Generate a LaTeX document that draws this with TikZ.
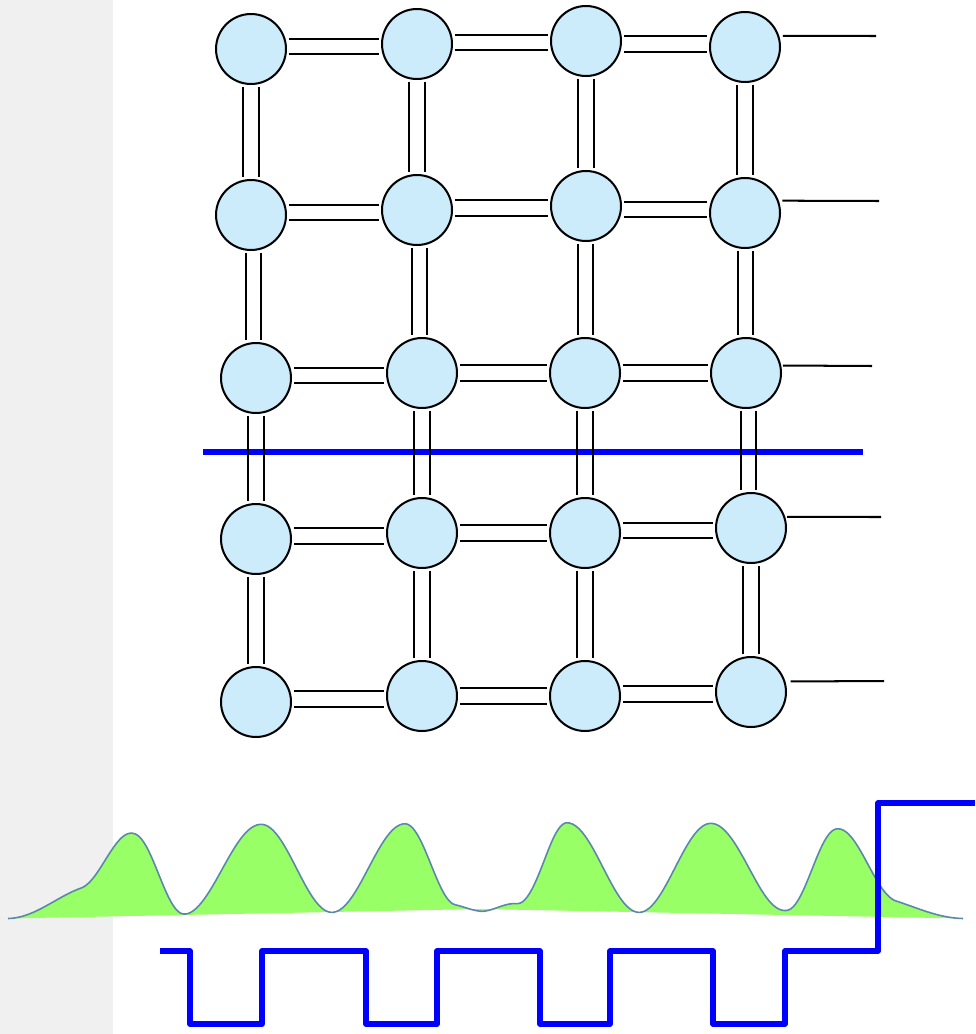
\documentclass[tikz,border=0pt]{standalone}
\usetikzlibrary{calc}
\definecolor{siteblue}{RGB}{204,236,252}
\definecolor{wavegreen}{RGB}{153,255,102}
\definecolor{waveline}{RGB}{90,135,170}
\definecolor{panelgrey}{RGB}{240,240,240}
\newcommand{\railH}[2]{%
  \path ($(#1)!0.5!(#2)$) coordinate (rm);
  \draw[rail] ($(#1.east |- rm)+(1pt,4.5pt)$) -- ($(#2.west |- rm)+(-1pt,4.5pt)$);
  \draw[rail] ($(#1.east |- rm)+(1pt,-4.5pt)$) -- ($(#2.west |- rm)+(-1pt,-4.5pt)$);}
\newcommand{\railV}[2]{%
  \path ($(#1)!0.5!(#2)$) coordinate (rm);
  \draw[rail] ($(#1.south -| rm)+(4.5pt,-1pt)$) -- ($(#2.north -| rm)+(4.5pt,1pt)$);
  \draw[rail] ($(#1.south -| rm)+(-4.5pt,-1pt)$) -- ($(#2.north -| rm)+(-4.5pt,1pt)$);}
\begin{document}
\begin{tikzpicture}[x=0.02cm,y=-0.02cm,
  declare function={
    rc(\u,\m,\p,\q)=0.5+0.5*cos(180*max(-1,min(1,(\u-\m)/(\p*(\u<\m)+\q*(\u>=\m)))));
    wb(\u)=918.5-7*sin((\u-8)/955*180);
    wv(\u)=wb(\u)-32*rc(\u,100,92,92)-60*rc(\u,136,55,47)-89*rc(\u,261,78,71)-88*rc(\u,405,73,50)-8*rc(\u,445,40,40)-8*rc(\u,515,35,35)-89*rc(\u,567,50,72)-90*rc(\u,711,72,77)-67.5*rc(\u,836,48,60)-22*rc(\u,860,103,103);
  },
  site/.style={circle, draw=black, line width=1.15pt, fill=siteblue, minimum size=1.4cm, inner sep=0pt},
  rail/.style={line width=1.15pt, black},
  stub/.style={line width=1.15pt, black},
  cut/.style={line width=3.4pt, blue},
  pulse/.style={line width=2.9pt, blue, line join=round},
  waveout/.style={line width=0.9pt, waveline, line join=round}]
\useasboundingbox (0,0) rectangle (975,1034);
\fill[panelgrey] (0,0) rectangle (113,1034);

% cut line
\coordinate (c1) at (203,452);
\coordinate (c2) at (863,452);
\draw[cut] (c1) -- (c2);

% sites
\node[site] (n11) at (251,49) {};
\node[site] (n12) at (417,44) {};
\node[site] (n13) at (586,41) {};
\node[site] (n14) at (745,47) {};
\node[site] (n21) at (251,215) {};
\node[site] (n22) at (417,210) {};
\node[site] (n23) at (586,206) {};
\node[site] (n24) at (745,213) {};
\node[site] (n31) at (256,378) {};
\node[site] (n32) at (422,373) {};
\node[site] (n33) at (585,373) {};
\node[site] (n34) at (746,373) {};
\node[site] (n41) at (256,539) {};
\node[site] (n42) at (422,533) {};
\node[site] (n43) at (585,533) {};
\node[site] (n44) at (751,528) {};
\node[site] (n51) at (256,702) {};
\node[site] (n52) at (422,696) {};
\node[site] (n53) at (585,696) {};
\node[site] (n54) at (751,692) {};

% horizontal rails
\railH{n11}{n12}\railH{n12}{n13}\railH{n13}{n14}
\railH{n21}{n22}\railH{n22}{n23}\railH{n23}{n24}
\railH{n31}{n32}\railH{n32}{n33}\railH{n33}{n34}
\railH{n41}{n42}\railH{n42}{n43}\railH{n43}{n44}
\railH{n51}{n52}\railH{n52}{n53}\railH{n53}{n54}
% vertical rails
\railV{n11}{n21}\railV{n21}{n31}\railV{n31}{n41}\railV{n41}{n51}
\railV{n12}{n22}\railV{n22}{n32}\railV{n32}{n42}\railV{n42}{n52}
\railV{n13}{n23}\railV{n23}{n33}\railV{n33}{n43}\railV{n43}{n53}
\railV{n14}{n24}\railV{n24}{n34}\railV{n34}{n44}\railV{n44}{n54}

% stubs
\coordinate (e1) at (876,36);
\coordinate (e2) at (879,201);
\coordinate (e3) at (872,366);
\coordinate (e4) at (881,517);
\coordinate (e5) at (884,681);
\draw[stub] ([xshift=2pt]n14.18) -- (e1);
\draw[stub] ([xshift=2pt]n24.20) -- (e2);
\draw[stub] ([xshift=1pt]n34.12) -- (e3);
\draw[stub] ([xshift=1pt]n44.18) -- (e4);
\draw[stub] ([xshift=3pt]n54.17) -- (e5);

% wave
\fill[wavegreen] plot[domain=8:963, samples=400, variable=\t] (\t,{wv(\t)}) -- (480,909) -- cycle;
\draw[waveout] plot[domain=8:963, samples=400, variable=\t] (\t,{wv(\t)});

% pulse train
\draw[pulse] (160,951) -- (190,951) -- (190,1024) -- (262,1024) -- (262,951)
 -- (366,951) -- (366,1024) -- (437,1024) -- (437,951)
 -- (540,951) -- (540,1024) -- (610,1024) -- (610,951)
 -- (713,951) -- (713,1024) -- (785,1024) -- (785,951)
 -- (878,951) -- (878,803) -- (975,803);
\end{tikzpicture}
\end{document}
